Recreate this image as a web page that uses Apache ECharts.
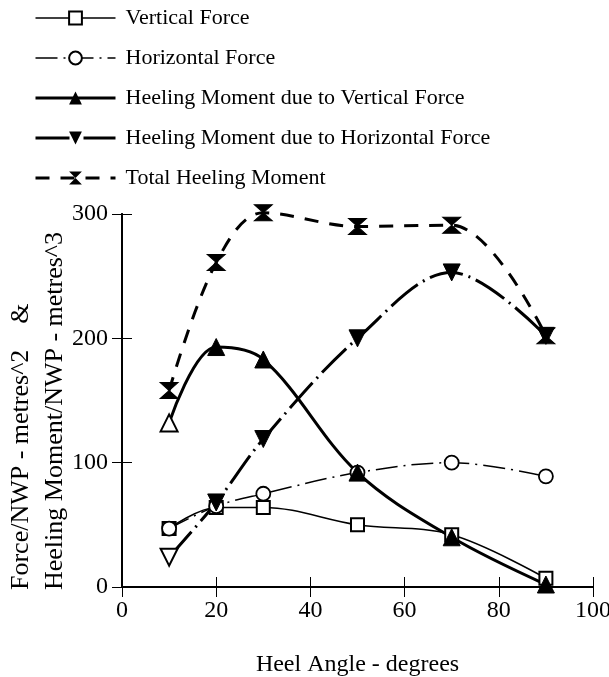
<!DOCTYPE html>
<html>
<head>
<meta charset="utf-8">
<script src="https://cdn.jsdelivr.net/npm/echarts@6/dist/echarts.min.js"></script>
<style>
  html, body { margin: 0; padding: 0; background: #fff; }
  #chart { width: 609px; height: 677px; }
</style>
</head>
<body>
<div id="chart"></div>
<script>
const heelAngles = [10, 20, 30, 50, 70, 90]
const verticalForce = [47, 64, 64, 50, 42, 7]
const horizontalForce = [47, 65, 75, 92, 100, 89]
const momentVertical = [132, 193, 183, 92, 40, 2]
const momentHorizontal = [24, 68, 119, 200, 253, 202]
const totalMoment = [158, 261, 301, 290, 291, 202]
const xTicks = [0, 20, 40, 60, 80, 100]
const yTicks = [0, 100, 200, 300]
const yTitleLines = ['Force/NWP - metres^2    &', 'Heeling Moment/NWP - metres^3']

const FONT = 'Liberation Serif'
const hourglass = 'path://M0,0 L10,0 L0,10 L10,10 Z'

const pairs = (ys) => heelAngles.map((x, i) => [x, ys[i]])
// first point of the moment curves is drawn hollow in the original
const hollowFirst = (ys) => heelAngles.map((x, i) =>
  i === 0 ? { value: [x, ys[i]], itemStyle: { color: '#fff', borderColor: '#000', borderWidth: 2 } } : [x, ys[i]])

const chart = echarts.init(document.getElementById('chart'))
chart.setOption({
  animation: false,
  backgroundColor: '#fff',
  textStyle: { fontFamily: FONT, color: '#000' },
  // y axis title: two lines, both starting from the bottom
  graphic: yTitleLines.map((t, i) => ({
    type: 'text',
    x: 21 + i * 34,
    y: 590,
    rotation: Math.PI / 2,
    style: {
      text: t,
      font: '26px "Liberation Serif"',
      fill: '#000',
      textAlign: 'left',
      textVerticalAlign: 'middle'
    }
  })),
  legend: {
    orient: 'vertical',
    left: 29,
    top: 2,
    itemWidth: 80,
    itemHeight: 16,
    itemGap: 18,
    textStyle: { fontFamily: FONT, fontSize: 22, color: '#000', padding: [0, 0, 0, 5] },
    data: [
      { name: 'Vertical Force', lineStyle: { width: 1.5 } },
      { name: 'Horizontal Force', lineStyle: { width: 1.5 } },
      { name: 'Heeling Moment due to Vertical Force', lineStyle: { width: 3 } },
      { name: 'Heeling Moment due to Horizontal Force', lineStyle: { width: 3 } },
      { name: 'Total Heeling Moment', lineStyle: { width: 3 } }
    ]
  },
  grid: { left: 122, right: 16, top: 214, bottom: 90, outerBoundsMode: 'none' },
  xAxis: [{
    type: 'value',
    min: 0, max: 100, interval: 20,
    name: 'Heel Angle - degrees',
    nameLocation: 'middle',
    nameGap: 66,
    nameTextStyle: { fontFamily: FONT, fontSize: 24, color: '#000' },
    axisLine: { lineStyle: { color: '#000', width: 2 } },
    axisTick: { inside: true, length: 10, lineStyle: { color: '#000' } },
    axisLabel: { fontFamily: FONT, fontSize: 24, color: '#000', margin: 12 },
    splitLine: { show: false }
  }, {
    type: 'value',
    position: 'top',
    min: 0, max: 100, interval: 20,
    axisLine: { show: true, lineStyle: { color: '#000', width: 2 } },
    axisTick: { inside: true, length: 10, lineStyle: { color: '#000' } },
    axisLabel: { show: false },
    splitLine: { show: false }
  }],
  yAxis: [{
    type: 'value',
    min: 0, max: 300, interval: 100,
    axisLine: { show: true, lineStyle: { color: '#000', width: 2 } },
    axisTick: { inside: true, length: 10, lineStyle: { color: '#000' } },
    axisLabel: { fontFamily: FONT, fontSize: 24, color: '#000', margin: 14 },
    splitLine: { show: false }
  }, {
    type: 'value',
    position: 'right',
    min: 0, max: 300, interval: 100,
    axisLine: { show: true, lineStyle: { color: '#000', width: 2 } },
    axisTick: { inside: true, length: 10, lineStyle: { color: '#000' } },
    axisLabel: { show: false },
    splitLine: { show: false }
  }],
  series: [
    {
      name: 'Vertical Force',
      type: 'line',
      smooth: 0.35,
      clip: false,
      data: pairs(verticalForce),
      symbol: 'rect',
      symbolSize: 13,
      lineStyle: { color: '#000', width: 1.5 },
      itemStyle: { color: '#fff', borderColor: '#000', borderWidth: 2 }
    },
    {
      name: 'Horizontal Force',
      type: 'line',
      smooth: 0.35,
      clip: false,
      data: pairs(horizontalForce),
      symbol: 'circle',
      symbolSize: 14,
      lineStyle: { color: '#000', width: 1.5, type: [22, 6, 2, 6] },
      itemStyle: { color: '#fff', borderColor: '#000', borderWidth: 1.8 }
    },
    {
      name: 'Heeling Moment due to Vertical Force',
      type: 'line',
      smooth: 0.35,
      clip: false,
      data: hollowFirst(momentVertical),
      symbol: 'triangle',
      symbolSize: 17,
      lineStyle: { color: '#000', width: 3 },
      itemStyle: { color: '#000', borderColor: '#000' }
    },
    {
      name: 'Heeling Moment due to Horizontal Force',
      type: 'line',
      smooth: 0.35,
      clip: false,
      data: hollowFirst(momentHorizontal),
      symbol: 'triangle',
      symbolRotate: 180,
      symbolSize: 17,
      lineStyle: { color: '#000', width: 3, type: [34, 6, 2, 6] },
      itemStyle: { color: '#000', borderColor: '#000' }
    },
    {
      name: 'Total Heeling Moment',
      type: 'line',
      smooth: 0.35,
      clip: false,
      data: pairs(totalMoment),
      symbol: hourglass,
      symbolSize: [18, 16],
      lineStyle: { color: '#000', width: 3, type: [14, 11] },
      itemStyle: { color: '#000', borderColor: '#000' }
    }
  ]
})
</script>
</body>
</html>
